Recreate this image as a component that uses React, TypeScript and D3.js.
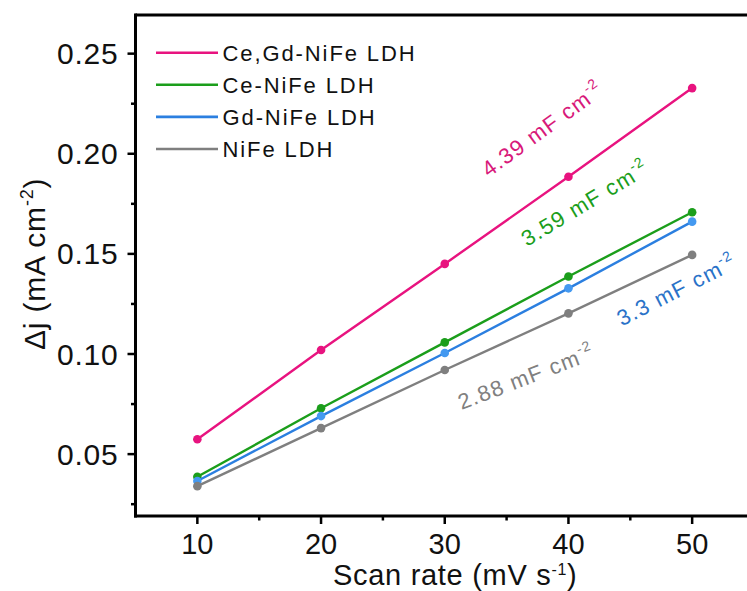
import * as d3 from "d3"

const scanRates = [10, 20, 30, 40, 50]
const ceGdNiFe = [0.0574, 0.1020, 0.1450, 0.1885, 0.2328]
const ceNiFe = [0.0387, 0.0729, 0.1058, 0.1387, 0.1708]
const gdNiFe = [0.0366, 0.0690, 0.1005, 0.1328, 0.1661]
const niFe = [0.0340, 0.0630, 0.0920, 0.1203, 0.1495]
const seriesNames = ["Ce,Gd-NiFe LDH", "Ce-NiFe LDH", "Gd-NiFe LDH", "NiFe LDH"]
const capacitances = ["4.39", "3.59", "3.3", "2.88"]
const xTicks = [10, 20, 30, 40, 50]
const yTicks = [0.05, 0.10, 0.15, 0.20, 0.25]

const colors = ["#e8137f", "#1b9e1b", "#2b7fe0", "#7f7f7f"]
const markerColors = ["#e8137f", "#1b9e1b", "#4499f0", "#7f7f7f"]
const labelColors = ["#d8197a", "#1b9e1b", "#2a72c8", "#808080"]

// where each slope label starts (data coords) and its angle
const labelSpots = [
  { x: 33.55, y: 0.188, angle: -36 },
  { x: 36.65, y: 0.1535, angle: -31 },
  { x: 44.3, y: 0.1137, angle: -27 },
  { x: 31.35, y: 0.072, angle: -21 },
]

const WIDTH = 747
const HEIGHT = 591
const MARGIN = { left: 135.5, top: 15, right: -7, bottom: 75 }
const FONT = "Arial, 'Liberation Sans', sans-serif"

export default function App() {
  const series = [ceGdNiFe, ceNiFe, gdNiFe, niFe]
  const x = d3.scaleLinear().domain([5, 55]).range([MARGIN.left, WIDTH - MARGIN.right])
  const y = d3.scaleLinear().domain([0.0191, 0.2693]).range([HEIGHT - MARGIN.bottom, MARGIN.top])
  const line = d3.line<number>()
    .x((_, i) => x(scanRates[i]))
    .y((d) => y(d))

  const xMinor = d3.range(15, 55, 10)
  const yMinor = d3.range(0.025, 0.26, 0.05)
  const bottom = HEIGHT - MARGIN.bottom
  const left = MARGIN.left

  return (
    <svg
      width={WIDTH}
      height={HEIGHT}
      style={{ position: "absolute", left: 0, top: 0, background: "#fff" }}
      fontFamily={FONT}
    >
      {/* data */}
      {series.map((s, k) => (
        <g key={k}>
          <path d={line(s) || ""} fill="none" stroke={colors[k]} strokeWidth={2.4} />
          {s.map((v, i) => (
            <circle key={i} cx={x(scanRates[i])} cy={y(v)} r={4.3} fill={markerColors[k]} />
          ))}
        </g>
      ))}

      {/* slope labels */}
      {labelSpots.map((p, k) => (
        <text
          key={k}
          transform={`translate(${x(p.x)},${y(p.y)}) rotate(${p.angle})`}
          fill={labelColors[k]}
          fontSize={22}
          letterSpacing={1.3}
        >
          {capacitances[k]} mF cm
          <tspan fontSize={14} dy={-10}>-2</tspan>
        </text>
      ))}

      {/* frame */}
      <line x1={left} x2={WIDTH + 10} y1={MARGIN.top} y2={MARGIN.top} stroke="#000" strokeWidth={3} />
      <line x1={left} x2={left} y1={MARGIN.top - 1.5} y2={bottom + 1.5} stroke="#000" strokeWidth={3} />
      <line x1={left - 1.5} x2={WIDTH + 10} y1={bottom} y2={bottom} stroke="#000" strokeWidth={3} />

      {/* y ticks */}
      {yTicks.map((t) => (
        <g key={t}>
          <line x1={left - 8} x2={left} y1={y(t)} y2={y(t)} stroke="#000" strokeWidth={2.5} />
          <text
            x={left - 17}
            y={y(t) + 10.5}
            textAnchor="end"
            fontSize={30}
            letterSpacing={0.8}
            fill="#111"
          >
            {t.toFixed(2)}
          </text>
        </g>
      ))}
      {yMinor.map((t) => (
        <line key={t} x1={left - 4.5} x2={left} y1={y(t)} y2={y(t)} stroke="#000" strokeWidth={2.5} />
      ))}

      {/* x ticks */}
      {xTicks.map((t) => (
        <g key={t}>
          <line x1={x(t)} x2={x(t)} y1={bottom} y2={bottom + 8} stroke="#000" strokeWidth={2.5} />
          <text x={x(t)} y={553.5} textAnchor="middle" fontSize={29} fill="#111">
            {t}
          </text>
        </g>
      ))}
      {xMinor.map((t) => (
        <line key={t} x1={x(t)} x2={x(t)} y1={bottom} y2={bottom + 4.5} stroke="#000" strokeWidth={2.5} />
      ))}

      {/* axis titles */}
      <text x={333} y={585} fontSize={29} fill="#111" letterSpacing={0.7}>
        Scan rate (mV s<tspan fontSize={16} dy={-10.5}>-1</tspan>
        <tspan dy={10.5}>)</tspan>
      </text>
      <text
        transform={`translate(45,350) rotate(-90)`}
        fontSize={30}
        fill="#111"
        letterSpacing={0.8}
      >
        Δj (mA cm<tspan fontSize={18} dy={-12}>-2</tspan>
        <tspan dy={12}>)</tspan>
      </text>

      {/* legend */}
      {seriesNames.map((n, k) => (
        <g key={n} transform={`translate(156,${52.7 + k * 32.1})`}>
          <line x1={0} x2={62} y1={0} y2={0} stroke={colors[k]} strokeWidth={2.6} />
          <text x={66.5} y={8} fontSize={22} letterSpacing={1.9} fill="#111">
            {n}
          </text>
        </g>
      ))}
    </svg>
  )
}
